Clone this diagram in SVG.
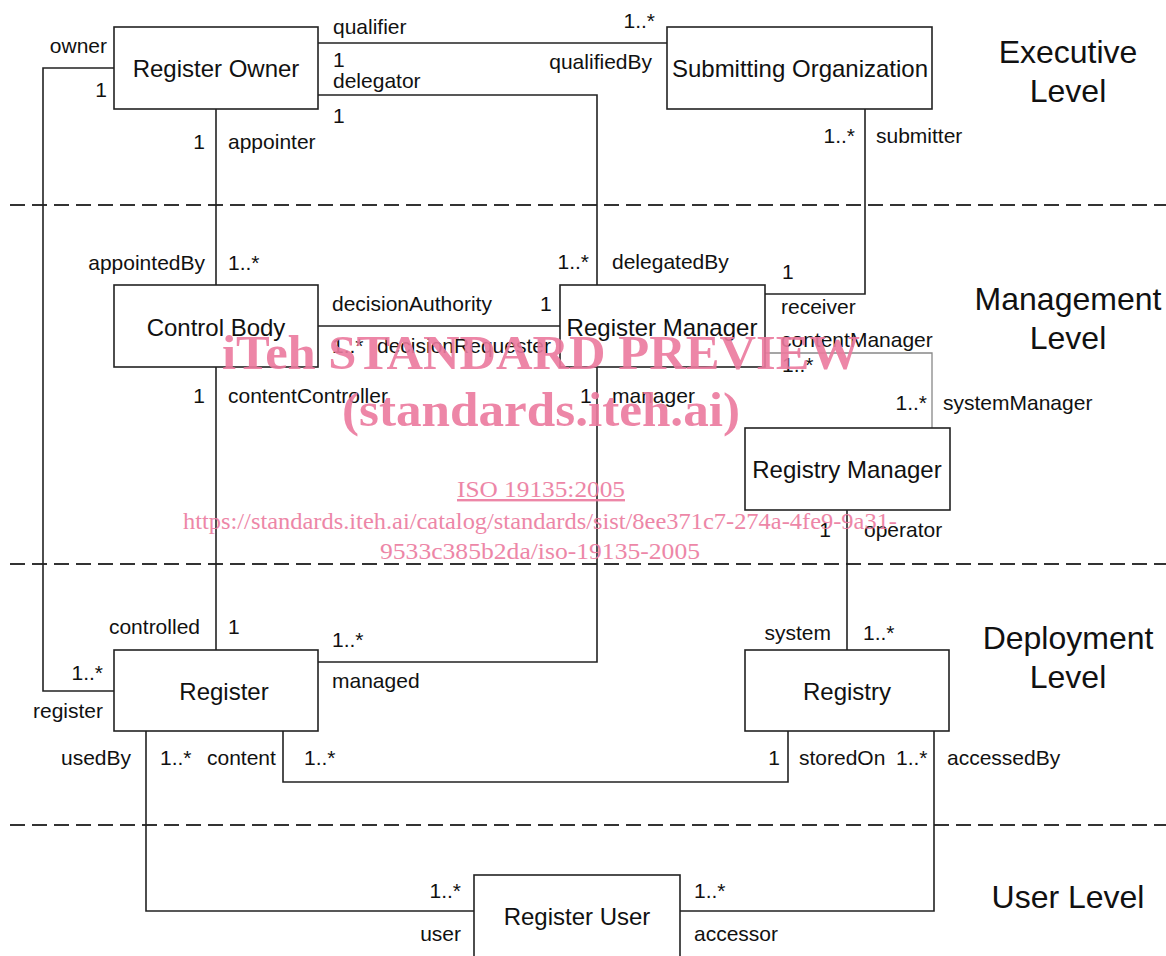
<svg xmlns="http://www.w3.org/2000/svg" width="1166" height="956" viewBox="0 0 1166 956">
<style>
.box{fill:#fff;stroke:#222;stroke-width:1.6}
.ln{fill:none;stroke:#222;stroke-width:1.6}
.lg{fill:none;stroke:#888;stroke-width:1.3}
.dash{fill:none;stroke:#333;stroke-width:2.2;stroke-dasharray:15 7}
text{font-family:"Liberation Sans",Arial,sans-serif;fill:#111}
.nm{font-size:24px;text-anchor:middle}
.lb{font-size:21px}
.r{text-anchor:end}
.lv{font-size:32px;text-anchor:middle}
.wm{font-family:"Liberation Serif","Times New Roman",serif;fill:#ec7a9e;text-anchor:middle}
</style>
<rect width="1166" height="956" fill="#fff"/>
<g id="levels">
<line class="dash" x1="10" y1="205" x2="1166" y2="205"/>
<line class="dash" x1="10" y1="564" x2="1166" y2="564"/>
<line class="dash" x1="10" y1="825" x2="1166" y2="825"/>
<text class="lv" x="1068" y="63">Executive</text>
<text class="lv" x="1068" y="102">Level</text>
<text class="lv" x="1068" y="310">Management</text>
<text class="lv" x="1068" y="349">Level</text>
<text class="lv" x="1068" y="649">Deployment</text>
<text class="lv" x="1068" y="688">Level</text>
<text class="lv" x="1068" y="908">User Level</text>
</g>
<g id="connectors">
<polyline class="ln" points="318,43 667,43"/>
<polyline class="ln" points="318,95 597,95 597,285"/>
<polyline class="ln" points="114,68 43,68 43,691 114,691"/>
<polyline class="ln" points="216,109 216,285"/>
<polyline class="ln" points="216,367 216,650"/>
<polyline class="ln" points="318,326 560,326"/>
<polyline class="ln" points="865,109 865,294 765,294"/>
<polyline class="lg" points="765,353 932,353 932,428"/>
<polyline class="ln" points="597,367 597,662 318,662"/>
<polyline class="ln" points="847,510 847,650"/>
<polyline class="ln" points="283,731 283,782 788,782 788,731"/>
<polyline class="ln" points="146,731 146,911 474,911"/>
<polyline class="ln" points="934,731 934,911 680,911"/>
</g>
<g id="labels">
<text class="lb r" x="107" y="53">owner</text>
<text class="lb r" x="107" y="97">1</text>
<text class="lb" x="333" y="34">qualifier</text>
<text class="lb" x="333" y="67">1</text>
<text class="lb" x="333" y="88">delegator</text>
<text class="lb" x="333" y="123">1</text>
<text class="lb r" x="655" y="28">1..*</text>
<text class="lb r" x="652" y="69">qualifiedBy</text>
<text class="lb r" x="205" y="149">1</text>
<text class="lb" x="228" y="149">appointer</text>
<text class="lb r" x="855" y="143">1..*</text>
<text class="lb" x="876" y="143">submitter</text>
<text class="lb r" x="205" y="270">appointedBy</text>
<text class="lb" x="228" y="270">1..*</text>
<text class="lb r" x="589" y="269">1..*</text>
<text class="lb" x="612" y="269">delegatedBy</text>
<text class="lb" x="782" y="279">1</text>
<text class="lb" x="332" y="311">decisionAuthority</text>
<text class="lb" x="540" y="311">1</text>
<text class="lb" x="332" y="353">1..*</text>
<text class="lb" x="377" y="353">decisionRequester</text>
<text class="lb" x="781" y="314">receiver</text>
<text class="lb" x="781" y="347">contentManager</text>
<text class="lb" x="782" y="372">1..*</text>
<text class="lb r" x="927" y="410">1..*</text>
<text class="lb" x="943" y="410">systemManager</text>
<text class="lb r" x="205" y="403">1</text>
<text class="lb" x="228" y="403">contentController</text>
<text class="lb" x="580" y="403">1</text>
<text class="lb" x="612" y="403">manager</text>
<text class="lb r" x="831" y="537">1</text>
<text class="lb" x="864" y="537">operator</text>
<text class="lb r" x="200" y="634">controlled</text>
<text class="lb" x="228" y="634">1</text>
<text class="lb" x="332" y="647">1..*</text>
<text class="lb" x="332" y="688">managed</text>
<text class="lb r" x="103" y="680">1..*</text>
<text class="lb r" x="103" y="718">register</text>
<text class="lb r" x="831" y="640">system</text>
<text class="lb" x="863" y="640">1..*</text>
<text class="lb r" x="131" y="765">usedBy</text>
<text class="lb" x="160" y="765">1..*</text>
<text class="lb" x="207" y="765">content</text>
<text class="lb" x="304" y="765">1..*</text>
<text class="lb r" x="780" y="765">1</text>
<text class="lb" x="799" y="765">storedOn</text>
<text class="lb" x="896" y="765">1..*</text>
<text class="lb" x="947" y="765">accessedBy</text>
<text class="lb r" x="461" y="898">1..*</text>
<text class="lb r" x="461" y="941">user</text>
<text class="lb" x="694" y="898">1..*</text>
<text class="lb" x="694" y="941">accessor</text>
</g>
<g id="register-owner"><rect class="box" x="114" y="27" width="204" height="82"/><text class="nm" x="216" y="77">Register Owner</text></g>
<g id="submitting-organization"><rect class="box" x="667" y="27" width="265" height="82"/><text class="nm" x="800" y="77">Submitting Organization</text></g>
<g id="control-body"><rect class="box" x="114" y="285" width="204" height="82"/><text class="nm" x="216" y="336">Control Body</text></g>
<g id="register-manager"><rect class="box" x="560" y="285" width="205" height="82"/><text class="nm" x="662" y="336">Register Manager</text></g>
<g id="registry-manager"><rect class="box" x="745" y="428" width="205" height="82"/><text class="nm" x="847" y="478">Registry Manager</text></g>
<g id="register"><rect class="box" x="114" y="650" width="204" height="81"/><text class="nm" x="224" y="700">Register</text></g>
<g id="registry"><rect class="box" x="745" y="650" width="204" height="81"/><text class="nm" x="847" y="700">Registry</text></g>
<g id="register-user"><rect class="box" x="474" y="875" width="206" height="90"/><text class="nm" x="577" y="925">Register User</text></g>
<g id="watermark" opacity="0.9">
<text class="wm" x="541" y="369" font-size="49" font-weight="bold" textLength="638" lengthAdjust="spacingAndGlyphs">iTeh STANDARD PREVIEW</text>
<text class="wm" x="541" y="426" font-size="49" font-weight="bold" textLength="398" lengthAdjust="spacingAndGlyphs">(standards.iteh.ai)</text>
<text class="wm" x="541" y="497" font-size="24" text-decoration="underline" textLength="168" lengthAdjust="spacingAndGlyphs">ISO 19135:2005</text>
<text class="wm" x="540" y="529" font-size="24" textLength="714" lengthAdjust="spacingAndGlyphs">https://standards.iteh.ai/catalog/standards/sist/8ee371c7-274a-4fe9-9a31-</text>
<text class="wm" x="540" y="559" font-size="24" textLength="320" lengthAdjust="spacingAndGlyphs">9533c385b2da/iso-19135-2005</text>
</g>
</svg>
